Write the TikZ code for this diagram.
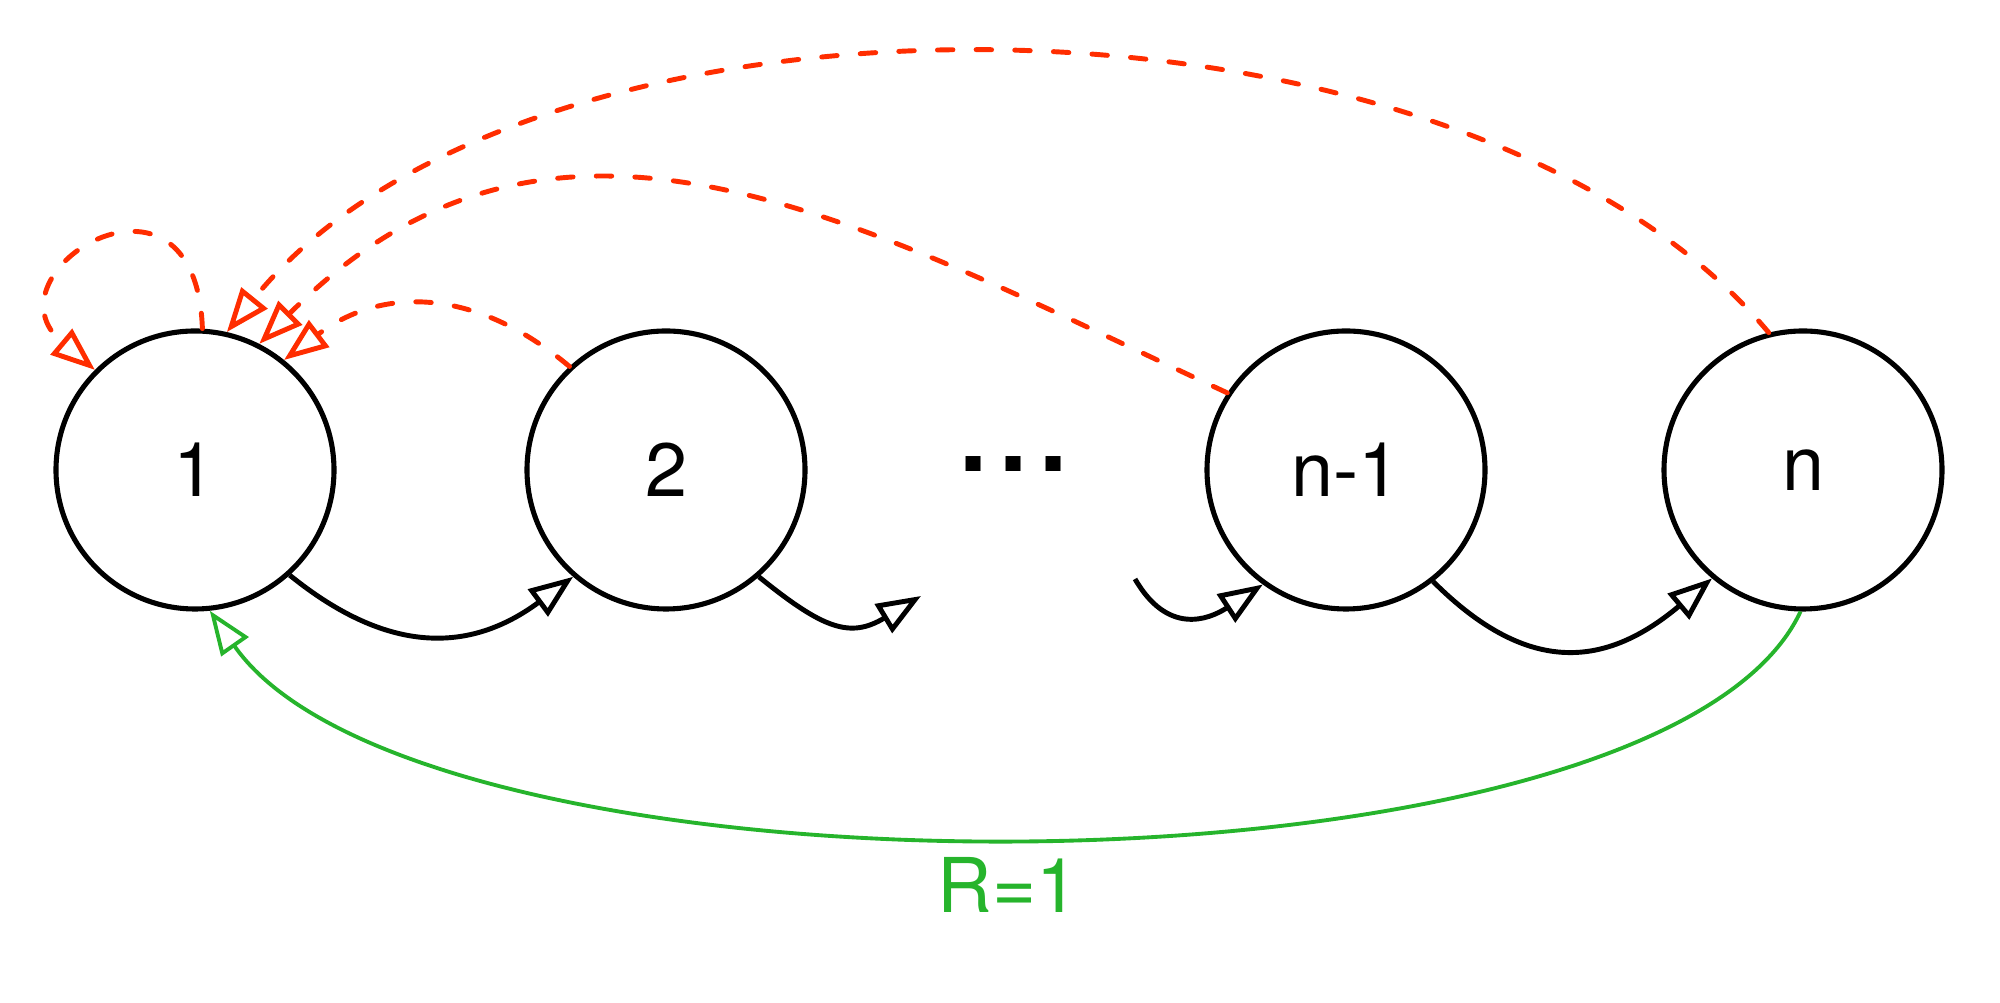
\documentclass[tikz,border=0pt]{standalone}
\usepackage{fontspec}
\setmainfont{TeX Gyre Heros}
\usetikzlibrary{arrows.meta}
\definecolor{backred}{RGB}{255,45,0}
\definecolor{resetgreen}{RGB}{38,180,44}

\begin{document}
\begin{tikzpicture}[
  state/.style={draw,circle,line width=1.45pt,minimum size=2.78cm,inner sep=0pt,
    font=\fontsize{21.5}{26}\selectfont},
  tip/.style={-{Triangle[open,length=0.44cm,width=0.33cm]}},
  flow/.style={tip,line width=1.4pt},
  jump/.style={tip,backred,line width=1.4pt,dash pattern=on 4.4pt off 6.6pt,line cap=round},
  reset/.style={tip,resetgreen,line width=1.1pt}]
\useasboundingbox (0,0) rectangle (20,-10.03);

\foreach \x/\name/\lab in {1.95/s1/1,6.66/s2/2,13.46/sm/n-1,18.03/sn/n}{
  \node[state] (\name) at (\x,-4.70) {\lab};
}
\node[anchor=base,font=\fontsize{41}{41}\selectfont] (dots) at (10.135,-4.72) {...};
\coordinate (c2) at (9.21,-5.96);
\coordinate (c3) at (11.35,-5.79);

\draw[flow] (s1.-48.5) to[out=-39,in=-143.5,looseness=1.15] (s2.-131.9);
\draw[flow] (s2.-49) to[out=-39,in=-149,looseness=1.3] (c2);
\draw[flow] (c3) to[out=-60,in=-147,looseness=1.3] (sm.-126);
\draw[flow] (sm.-52.6) to[out=-45,in=-140,looseness=1.25] (sn.-130);

\draw[jump] (s1.87) .. controls +(92:1.9) and +(140:1.5) .. (s1.135);
\draw[jump] (s2.133) to[out=140,in=37,looseness=1.1] (s1.51.5);
\draw[jump] (sm.147) to[out=155,in=45,looseness=1.1] (s1.63.4);
\draw[jump] (sn.104.5) to[out=130,in=51,looseness=0.8] (s1.77);

\draw[reset] (sn.-91) .. controls +(-115:3.3) and +(-55:3.7) .. (s1.-84);
\node[resetgreen,font=\fontsize{21.5}{26}\selectfont] (rlab) at (10.08,-8.85) {R=1};
\end{tikzpicture}
\end{document}
